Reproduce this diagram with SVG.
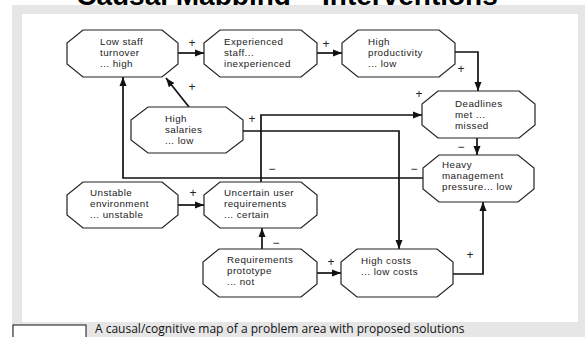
<svg xmlns="http://www.w3.org/2000/svg" width="585" height="337" viewBox="0 0 585 337">
<style>
.node polygon{fill:#fff;stroke:#222;stroke-width:1.2}
.node text{font-family:"Liberation Sans",Arial,sans-serif;font-size:9.8px;letter-spacing:0.45px;fill:#222}
.lbl{font-family:"Liberation Sans",Arial,sans-serif;font-size:12px;fill:#222;text-anchor:middle}
.conn path{fill:none;stroke:#111;stroke-width:1.7}
.title{font-family:"Liberation Sans",Arial,sans-serif;font-weight:bold;font-size:28px;fill:#000;text-anchor:middle}
.cap{font-family:"Open Sans","Noto Sans",sans-serif;font-size:12px;fill:#111}
</style>
<defs>
<marker id="ah" markerUnits="userSpaceOnUse" markerWidth="10" markerHeight="8" refX="9" refY="4" orient="auto">
<path d="M0,0.5 L9,4 L0,7.5 Z" fill="#111"/>
</marker>
</defs>
<rect width="585" height="337" fill="#fff"/>
<text class="title" x="287" y="5">Causal Mapping – Interventions</text>
<rect x="12" y="5" width="573" height="332" fill="#e6e6e6"/>
<rect x="22" y="14" width="556" height="308" fill="#fff"/>

<g class="conn">
<path d="M178,53 H204" marker-end="url(#ah)"/>
<path d="M317,53 H342" marker-end="url(#ah)"/>
<path d="M455,52 H478 V91" marker-end="url(#ah)"/>
<path d="M189,107 L166,78" marker-end="url(#ah)"/>
<path d="M243,131 H399 V249" marker-end="url(#ah)"/>
<path d="M261,182 V115 H422" marker-end="url(#ah)"/>
<path d="M477,138 V155" marker-end="url(#ah)"/>
<path d="M423,178 H123 V77" marker-end="url(#ah)"/>
<path d="M178,205 H204" marker-end="url(#ah)"/>
<path d="M262,249 V228" marker-end="url(#ah)"/>
<path d="M317,273 H341" marker-end="url(#ah)"/>
<path d="M453,274 H483 V202" marker-end="url(#ah)"/>
</g>
<g id="labels">
<text class="lbl" x="192" y="47">+</text>
<text class="lbl" x="326" y="48">+</text>
<text class="lbl" x="461" y="73">+</text>
<text class="lbl" x="192" y="91">+</text>
<text class="lbl" x="252" y="123">+</text>
<text class="lbl" x="419" y="98">+</text>
<text class="lbl" x="272" y="173">−</text>
<text class="lbl" x="461" y="151">−</text>
<text class="lbl" x="414" y="173">−</text>
<text class="lbl" x="193" y="197">+</text>
<text class="lbl" x="276" y="247">−</text>
<text class="lbl" x="331" y="266">+</text>
<text class="lbl" x="470" y="259">+</text>
</g>

<g id="n-lowstaff" class="node">
<polygon points="83,30 162,30 178,43 178,64 162,77 83,77 67,64 67,43"/>
<text x="100" y="45">Low staff<tspan x="100" dy="11">turnover</tspan><tspan x="100" dy="11">... high</tspan></text>
</g>
<g id="n-experienced" class="node">
<polygon points="220,30 301,30 317,43 317,64 301,77 220,77 204,64 204,43"/>
<text x="224" y="45">Experienced<tspan x="224" dy="11">staff...</tspan><tspan x="224" dy="11">inexperienced</tspan></text>
</g>
<g id="n-productivity" class="node">
<polygon points="358,30 439,30 455,43 455,64 439,77 358,77 342,64 342,43"/>
<text x="368" y="45">High<tspan x="368" dy="11">productivity</tspan><tspan x="368" dy="11">... low</tspan></text>
</g>
<g id="n-salaries" class="node">
<polygon points="148,107 226,107 243,120 243,140 226,153 148,153 131,140 131,120"/>
<text x="165" y="122">High<tspan x="165" dy="11">salaries</tspan><tspan x="165" dy="11">... low</tspan></text>
</g>
<g id="n-deadlines" class="node">
<polygon points="438,91 519,91 535,104 535,125 519,138 438,138 422,125 422,104"/>
<text x="455" y="107">Deadlines<tspan x="455" dy="11">met ...</tspan><tspan x="455" dy="11">missed</tspan></text>
</g>
<g id="n-heavy" class="node">
<polygon points="439,155 518,155 534,168 534,189 518,202 439,202 423,189 423,168"/>
<text x="442" y="168">Heavy<tspan x="442" dy="11">management</tspan><tspan x="442" dy="11">pressure... low</tspan></text>
</g>
<g id="n-unstable" class="node">
<polygon points="83,182 162,182 178,195 178,215 162,228 83,228 67,215 67,195"/>
<text x="90" y="196">Unstable<tspan x="90" dy="11">environment</tspan><tspan x="90" dy="11">... unstable</tspan></text>
</g>
<g id="n-uncertain" class="node">
<polygon points="220,182 301,182 317,195 317,215 301,228 220,228 204,215 204,195"/>
<text x="224" y="196">Uncertain user<tspan x="224" dy="11">requirements</tspan><tspan x="224" dy="11">... certain</tspan></text>
</g>
<g id="n-prototype" class="node">
<polygon points="219,249 301,249 317,262 317,284 301,297 219,297 203,284 203,262"/>
<text x="227" y="263">Requirements<tspan x="227" dy="11">prototype</tspan><tspan x="227" dy="11">... not</tspan></text>
</g>
<g id="n-costs" class="node">
<polygon points="357,249 437,249 453,262 453,284 437,297 357,297 341,284 341,262"/>
<text x="361" y="264">High costs<tspan x="361" dy="11">... low costs</tspan></text>
</g>

<rect x="13" y="325" width="73" height="20" fill="#fff" stroke="#111" stroke-width="1"/>
<text class="cap" x="95" y="333">A causal/cognitive map of a problem area with proposed solutions</text>
</svg>
